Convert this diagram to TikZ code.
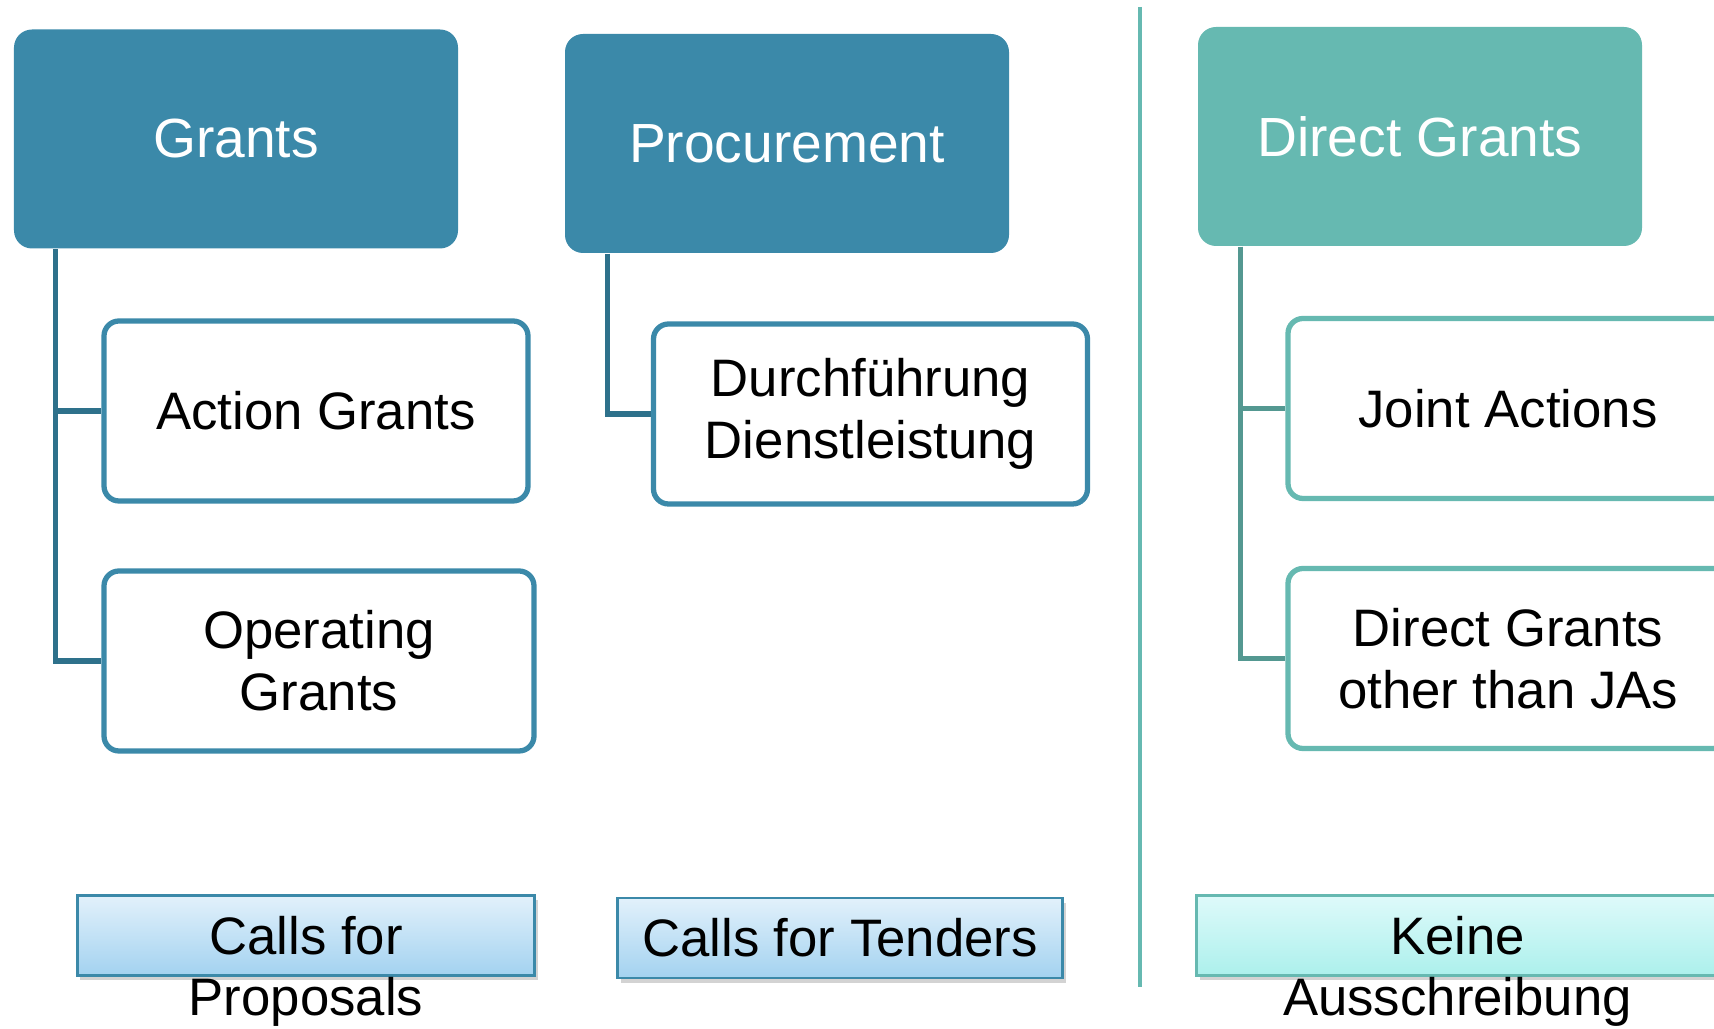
\documentclass[tikz,border=0pt]{standalone}
\usepackage{fontspec}
\setmainfont{Liberation Sans}
\usetikzlibrary{shadows}
\definecolor{gblue}{RGB}{59,137,169}
\definecolor{gteal}{RGB}{102,185,177}
\definecolor{lblue}{RGB}{46,113,139}
\definecolor{lteal}{RGB}{84,152,145}
\definecolor{cbluetop}{RGB}{226,241,251}
\definecolor{cbluebot}{RGB}{163,210,240}
\definecolor{ctealtop}{RGB}{222,250,250}
\definecolor{ctealbot}{RGB}{172,240,236}
\tikzstyle{head} = [rectangle, rounded corners=0.18cm, minimum width=4.44cm, minimum height=2.19cm, text centered, text=white, font=\fontsize{15.7}{18}\selectfont]
\tikzstyle{item} = [rectangle, rounded corners=0.15cm, minimum width=4.24cm, minimum height=1.8cm, align=center, line width=1.5pt, fill=white, font=\fontsize{15}{17.7}\selectfont]
\tikzstyle{call} = [rectangle, minimum height=0.8cm, line width=0.6pt, drop shadow={shadow xshift=0.03cm, shadow yshift=-0.05cm, opacity=0.35}, font=\fontsize{15}{17.7}\selectfont]
\tikzstyle{callrest} = [inner sep=0pt, text height=0.72em, text depth=0pt, font=\fontsize{15}{17.7}\selectfont]
\tikzstyle{branch} = [line width=1.5pt]
\tikzstyle{divider} = [line width=1.3pt, draw=gteal]

\begin{document}
\begin{tikzpicture}[node distance=2.5cm]
	\useasboundingbox (0,0) rectangle (17.14,-10.29);
	\clip (0,0) rectangle (17.14,-10.29);
	\node (grants) [head, fill=gblue] at (2.36,-1.39) {Grants};
	\node (procure) [head, fill=gblue, right of=grants, xshift=3.01cm, yshift=-0.045cm] {Procurement};
	\node (direct) [head, fill=gteal, right of=procure, xshift=3.83cm, yshift=0.07cm] {Direct Grants};
	\node (action) [item, draw=gblue, below of=grants, xshift=0.8cm, yshift=-0.22cm] {Action Grants};
	\node (operating) [item, draw=gblue, minimum width=4.3cm, below of=action, xshift=0.03cm] {Operating\\Grants};
	\node (service) [item, draw=gblue, minimum width=4.34cm, below of=procure, xshift=0.835cm, yshift=-0.205cm] {Durchführung\\Dienstleistung};
	\node (joint) [item, draw=gteal, minimum width=4.4cm, below of=direct, xshift=0.88cm, yshift=-0.22cm] {Joint Actions};
	\node (other) [item, draw=gteal, minimum width=4.4cm, below of=joint] {Direct Grants\\other than JAs};
	\node (cfp) [call, draw=gblue, top color=cbluetop, bottom color=cbluebot, minimum width=4.57cm, below of=operating, xshift=-0.13cm, yshift=-0.245cm] {Calls for};
	\node (cfprest) [callrest, node distance=0.67cm, below of=cfp] {Proposals};
	\node (cft) [call, draw=gblue, top color=cbluetop, bottom color=cbluebot, minimum width=4.45cm, right of=cfp, xshift=2.84cm, yshift=-0.025cm] {Calls for Tenders};
	\node (none) [call, draw=gteal, top color=ctealtop, bottom color=ctealbot, minimum width=5.22cm, right of=cft, xshift=3.675cm, yshift=0.025cm] {Keine};
	\node (nonerest) [callrest, node distance=0.67cm, below of=none] {Ausschreibung};
	\coordinate (divtop) at (11.40,-0.07);
	\coordinate (divbot) at (11.40,-9.87);
	\draw [branch, draw=lblue] ([xshift=0.42cm]grants.south west) |- (operating.west);
	\draw [branch, draw=lblue] ([xshift=0.42cm]grants.south west) |- (action.west);
	\draw [branch, draw=lblue] ([xshift=0.43cm]procure.south west) |- (service.west);
	\draw [branch, draw=lteal] ([xshift=0.43cm]direct.south west) |- (other.west);
	\draw [branch, draw=lteal] ([xshift=0.43cm]direct.south west) |- (joint.west);
	\draw [divider] (divtop) -- (divbot);
	
\end{tikzpicture}
\end{document}
